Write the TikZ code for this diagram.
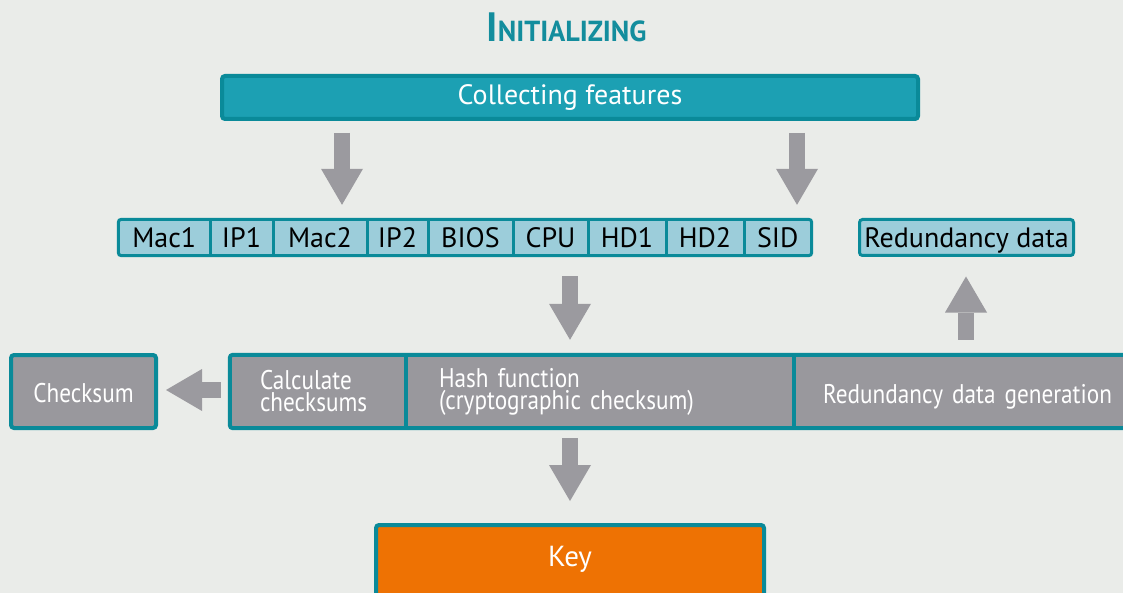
\documentclass[tikz,border=0pt]{standalone}
\usepackage{fontspec}
\setmainfont{PT Sans}
\newfontfamily\condfont[FakeStretch=0.86]{PT Sans}
\newfontfamily\titlefont[FakeStretch=0.97]{PT Sans Bold}
\usetikzlibrary{arrows.meta}

\definecolor{pagebg}{HTML}{EAECE9}
\definecolor{tealdark}{HTML}{0A8A99}
\definecolor{topfill}{HTML}{1CA0B3}
\definecolor{cellfill}{HTML}{9CCDDA}
\definecolor{greyfill}{HTML}{99989D}
\definecolor{arrowgrey}{HTML}{9B9A9F}
\definecolor{keyorange}{HTML}{EE7203}
\definecolor{titleteal}{HTML}{138D9D}

\begin{document}
\begin{tikzpicture}[x=1pt,y=-1pt,
  topbox/.style={draw=tealdark, line width=4pt, fill=topfill, rounded corners=3pt,
    minimum width=696pt, minimum height=43pt, inner sep=0pt, text=white,
    font=\fontsize{28}{32}\selectfont},
  cell/.style={fill=cellfill, minimum height=36pt, inner sep=0pt, text=black,
    text height=20pt, text depth=0pt, font=\fontsize{28}{32}\selectfont},
  rowframe/.style={draw=tealdark, line width=3pt, rounded corners=3pt},
  rowdiv/.style={draw=tealdark, line width=3pt},
  greybox/.style={fill=greyfill, minimum height=73pt, inner ysep=0pt, text=white,
    align=left, font=\condfont\fontsize{27}{22}\selectfont},
  boxframe/.style={draw=tealdark, line width=4pt, rounded corners=3pt},
  boxdiv/.style={draw=tealdark, line width=4pt},
  keybox/.style={draw=tealdark, line width=4pt, fill=keyorange, rounded corners=3pt,
    minimum width=388pt, minimum height=95pt, inner sep=0pt},
  fat/.style={draw=arrowgrey, line width=16pt,
    -{Triangle[width=42pt,length=36pt,line width=0pt]}}
]
\fill[pagebg] (0,0) rectangle (1123,593);
\useasboundingbox (0,0) rectangle (1123,593);

% heading
\node[anchor=base, inner sep=0pt, text=titleteal] (title) at (566.5,42)
  {\titlefont{\fontsize{41}{41}\selectfont I}{\fontsize{29}{29}\selectfont NITIALIZING}};

% collecting step
\node[topbox] (top) at (570,97.5) {Collecting features};

% feature row
\node[cell, minimum width=91.5pt] (mac1) at (164.25,237.5) {Mac1};
\node[cell, minimum width=63pt]   (ip1)  at (241.5,237.5)  {IP1};
\node[cell, minimum width=94pt]   (mac2) at (320,237.5)    {Mac2};
\node[cell, minimum width=61pt]   (ip2)  at (397.5,237.5)  {IP2};
\node[cell, minimum width=85pt]   (bios) at (470.5,237.5)  {BIOS};
\node[cell, minimum width=75pt]   (cpu)  at (550.5,237.5)  {CPU};
\node[cell, minimum width=78pt]   (hd1)  at (627,237.5)    {HD1};
\node[cell, minimum width=78pt]   (hd2)  at (705,237.5)    {HD2};
\node[cell, minimum width=67.5pt] (sid)  at (777.75,237.5) {SID};
\draw[rowframe] (mac1.north west) rectangle (sid.south east);
\foreach \c in {mac1,ip1,mac2,ip2,bios,cpu,hd1,hd2}
  \draw[rowdiv] (\c.north east) -- (\c.south east);

\node[cell, draw=tealdark, line width=3pt, rounded corners=3pt, minimum width=214pt]
  (redund) at (966.5,237.5) {Redundancy data};

% processing row
\node[greybox, minimum width=176pt, inner xsep=30pt, text width=116pt] (calc) at (318,391.5)
  {Calculate\\checksums};
\node[greybox, minimum width=388pt, inner xsep=33pt, text width=322pt] (hash) at (600,391.5)
  {Hash function\\(cryptographic checksum)};
\node[greybox, anchor=west, inner xsep=29pt, text width=330pt,
  text height=23pt, text depth=0pt] (redgen) at (794,391.5)
  {Redundancy data generation};
\draw[boxframe] (calc.north west) rectangle (redgen.south east);
\draw[boxdiv] (calc.north east) -- (calc.south east);
\draw[boxdiv] (hash.north east) -- (hash.south east);

\node[greybox, draw=tealdark, line width=4pt, rounded corners=3pt, minimum width=145pt,
  inner xsep=0pt, align=center, text height=21pt, text depth=0pt]
  (checksum) at (83.5,391.5) {Checksum};

% result
\node[keybox] (key) at (570,572.5) {};
\node[anchor=base, inner sep=0pt, text=white, font=\fontsize{29}{32}\selectfont]
  (keytext) at (570,566.5) {Key};

% arrow positions
\coordinate (ax1) at (342,0);
\coordinate (ax2) at (797,0);
\coordinate (ax3) at (570,0);
\coordinate (ax4) at (966,0);
\coordinate (ay5) at (0,390);

% arrows
\draw[fat, shorten <=12pt, shorten >=14.5pt] (top.south -| ax1) -- (mac2.north -| ax1);
\draw[fat, shorten <=12pt, shorten >=14.5pt] (top.south -| ax2) -- (sid.north -| ax2);
\draw[fat, shorten <=20.5pt, shorten >=15pt] (cpu.south -| ax3) -- (hash.north -| ax3);
\draw[fat, shorten <=15pt, shorten >=19.5pt] (redgen.north -| ax4) -- (redund.south -| ax4);
\draw[fat, shorten <=9pt, shorten >=8pt] (calc.west |- ay5) -- (checksum.east |- ay5);
\draw[fat, shorten <=10pt, shorten >=22pt] (hash.south -| ax3) -- (key.north -| ax3);
\end{tikzpicture}
\end{document}
